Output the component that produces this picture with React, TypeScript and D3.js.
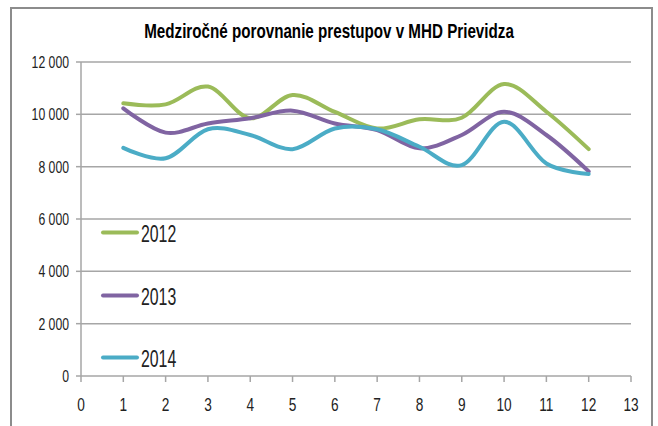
import React from "react";
import * as d3 from "d3";

const months = [1, 2, 3, 4, 5, 6, 7, 8, 9, 10, 11, 12];
const seriesNames = ["2012", "2013", "2014"];
const values2012 = [10420, 10380, 11060, 9850, 10740, 10090, 9460, 9810, 9870, 11160, 10100, 8670];
const values2013 = [10230, 9300, 9650, 9850, 10140, 9650, 9400, 8700, 9210, 10100, 9210, 7820];
const values2014 = [8720, 8320, 9430, 9210, 8670, 9460, 9430, 8760, 8060, 9720, 8120, 7720];
const colors = ["#9BBB59", "#8064A2", "#4BACC6"];
const yTicks = [0, 2000, 4000, 6000, 8000, 10000, 12000];
const xTicks = [0, 1, 2, 3, 4, 5, 6, 7, 8, 9, 10, 11, 12, 13];
const title = "Medziročné porovnanie prestupov v MHD Prievidza";

const W = 658, H = 426;
const left = 81, right = 631, top = 62, bottom = 376;

export default function App() {
  const x = d3.scaleLinear().domain([0, 13]).range([left, right]);
  const y = d3.scaleLinear().domain([0, 12000]).range([bottom, top]);
  const series = [values2012, values2013, values2014];
  const line = d3
    .line<number>()
    .x((_, i) => x(months[i]))
    .y((d) => y(d))
    .curve(d3.curveCardinal.tension(0));
  const fmt = (v: number) => d3.format(",")(v).replace(/,/g, " ");
  const legendY = [232.5, 295.5, 357.5];
  const font = "'Liberation Sans', Arial, sans-serif";

  return (
    <svg width={W} height={H} style={{ position: "absolute", left: 0, top: 0, background: "#fff" }}>
      <rect x={11} y={8} width={641} height={430} fill="#fff" stroke="#8c8c8c" strokeWidth={2} />
      <g transform={`translate(329,38) scale(0.76,1)`}>
        <text x={0} y={0} textAnchor="middle" fontFamily={font} fontWeight="bold" fontSize={20} fill="#000">
          {title}
        </text>
      </g>
      {yTicks.map((t) => (
        <g key={t}>
          <line x1={left} x2={right} y1={y(t)} y2={y(t)} stroke="#a6a6a6" strokeWidth={1.5} />
          <line x1={left - 5} x2={left} y1={y(t)} y2={y(t)} stroke="#a6a6a6" strokeWidth={1.5} />
          <g transform={`translate(${left - 12},${y(t) + 6}) scale(0.72,1)`}>
            <text x={0} y={0} textAnchor="end" fontFamily={font} fontSize={17} fill="#222">
              {fmt(t)}
            </text>
          </g>
        </g>
      ))}
      <line x1={left} x2={left} y1={top} y2={bottom} stroke="#a6a6a6" strokeWidth={1.5} />
      {xTicks.map((t) => (
        <g key={t}>
          <line x1={x(t)} x2={x(t)} y1={bottom} y2={bottom + 6} stroke="#a6a6a6" strokeWidth={1.5} />
          <g transform={`translate(${x(t)},${411}) scale(0.72,1)`}>
            <text x={0} y={0} textAnchor="middle" fontFamily={font} fontSize={19} fill="#222">
              {t}
            </text>
          </g>
        </g>
      ))}
      {series.map((s, i) => (
        <path key={seriesNames[i]} d={line(s) || ""} fill="none" stroke={colors[i]} strokeWidth={4} strokeLinecap="round" strokeLinejoin="round" />
      ))}
      {seriesNames.map((n, i) => (
        <g key={n}>
          <line x1={103} x2={137} y1={legendY[i]} y2={legendY[i]} stroke={colors[i]} strokeWidth={4} strokeLinecap="round" />
          <g transform={`translate(141,${legendY[i] + 9}) scale(0.66,1)`}>
            <text x={0} y={0} fontFamily={font} fontSize={24} fill="#222">
              {n}
            </text>
          </g>
        </g>
      ))}
    </svg>
  );
}
